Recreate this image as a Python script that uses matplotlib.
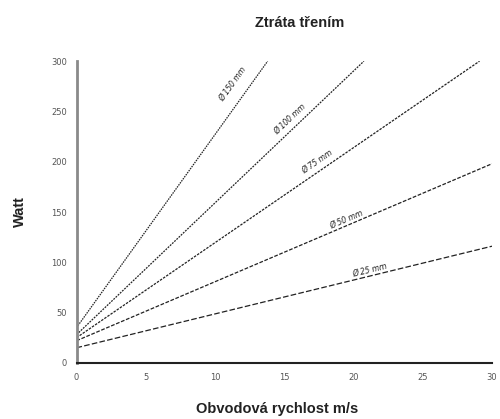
import numpy as np
import matplotlib
matplotlib.use('Agg')
import matplotlib.pyplot as plt

# Friction loss per shaft diameter: value at 0 m/s and slope (W per m/s)
labels = ['Ø 150 mm', 'Ø 100 mm', 'Ø 75 mm', 'Ø 50 mm', 'Ø 25 mm']
start_w = [35, 28, 25, 22, 15]
end_speed = [13.8, 20.75, 29.1, 30, 30]
end_w = [300, 300, 300, 198, 116]
label_x = [11.3, 15.4, 17.4, 19.5, 21.2]
label_y = [277, 242, 200, 142, 92]
dash_styles = [(0, (1.2, 0.8)), (0, (1.5, 0.9)), (0, (2, 1)), (0, (3, 1.3)), (0, (4.5, 1.8))]

x_ticks = [0, 5, 10, 15, 20, 25, 30]
y_ticks = [0, 50, 100, 150, 200, 250, 300]

fig = plt.figure(figsize=(5, 4.19), dpi=100)
ax = fig.add_axes([0.153, 0.134, 0.831, 0.72])

for i in range(len(labels)):
    ax.plot([0, end_speed[i]], [start_w[i], end_w[i]], color='#222222',
            lw=0.9, linestyle=dash_styles[i])
    slope = (end_w[i] - start_w[i]) / end_speed[i]
    ax.text(label_x[i], label_y[i], labels[i], fontsize=5.5, color='#222222',
            rotation=np.degrees(np.arctan(slope)), transform_rotates_text=True,
            rotation_mode='anchor', ha='center', va='center', style='italic')

ax.set_xlim(0, 30)
ax.set_ylim(0, 300)
ax.set_xticks(x_ticks)
ax.set_yticks(y_ticks)
ax.tick_params(length=0, labelsize=6, labelcolor='#555555', pad=7)
for s in ['top', 'right']:
    ax.spines[s].set_visible(False)
ax.spines['left'].set_color('#8a8a8a')
ax.spines['left'].set_linewidth(2)
ax.spines['bottom'].set_color('#222222')
ax.spines['bottom'].set_linewidth(1.5)

title_font = dict(family='Liberation Sans', fontsize=10.5, fontweight='bold', color='#222222')
fig.text(0.6, 0.945, 'Ztráta třením', ha='center', va='center', **title_font)
fig.text(0.555, 0.025, 'Obvodová rychlost m/s', ha='center', va='center', **title_font)
fig.text(0.04, 0.494, 'Watt', ha='center', va='center', rotation=90, **title_font)

fig.savefig('out.png', dpi=100)
